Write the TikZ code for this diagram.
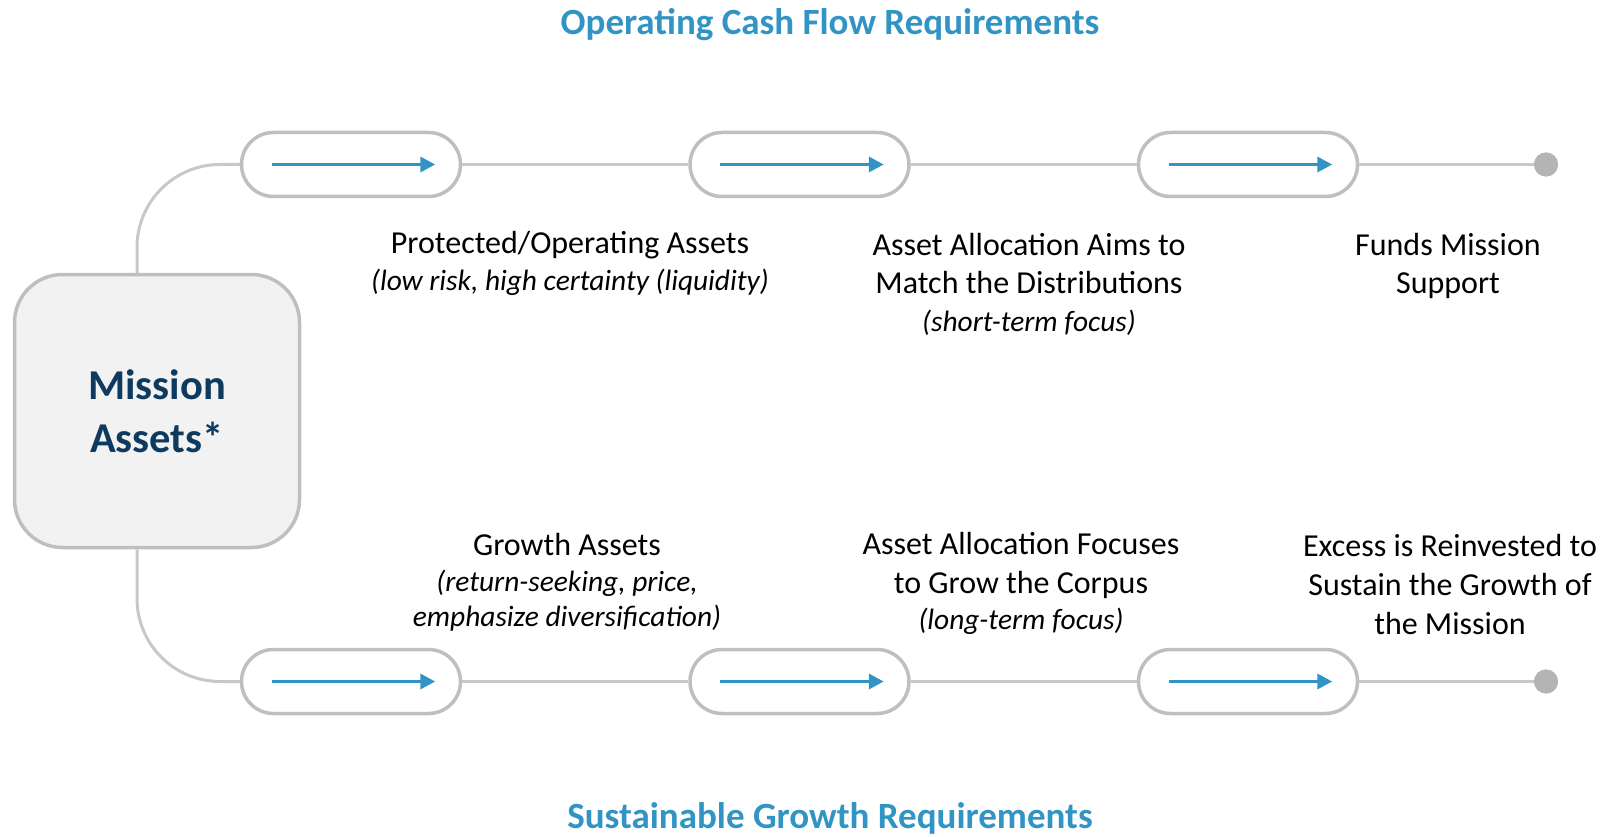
\documentclass[tikz,border=0pt]{standalone}
\usepackage{fontspec}
\setmainfont{Carlito}
\usetikzlibrary{arrows.meta}
\definecolor{accblue}{RGB}{49,148,196}
\definecolor{navy}{RGB}{14,58,95}
\definecolor{bordergray}{RGB}{191,191,191}
\definecolor{conngray}{RGB}{200,200,200}
\definecolor{dotgray}{RGB}{180,180,180}
\definecolor{boxfill}{RGB}{242,242,242}
\newcommand\subnote[1]{{\fontsize{29.4}{38}\selectfont\itshape #1}}
\begin{document}
\begin{tikzpicture}[x=1pt,y=-1pt,
  pill/.style={draw=bordergray, line width=3.5pt, fill=white, rounded corners=32pt,
    minimum width=219pt, minimum height=64pt, inner sep=0pt},
  mainbox/.style={draw=bordergray, line width=3.5pt, fill=boxfill, rounded corners=48pt,
    minimum width=285pt, minimum height=273pt, align=center, text=navy,
    font=\fontsize{42.5}{53}\selectfont\bfseries},
  conn/.style={draw=conngray, line width=3pt},
  flow/.style={draw=accblue, line width=3.5pt, -{Triangle[length=15pt,width=15pt]}},
  enddot/.style={circle, fill=dotgray, minimum size=24pt, inner sep=0pt},
  title/.style={anchor=base, text=accblue, font=\fontsize{37}{44}\selectfont\bfseries},
  label/.style={anchor=base, inner sep=0pt, font=\fontsize{32}{38}\selectfont}
]
\useasboundingbox (0,0) rectangle (1612,837);

% titles
\node[title] (ttop) at (830,35) {Operating Cash Flow Requirements};
\node[title] (tbot) at (830,828.5) {Sustainable Growth Requirements};

% mission box
\node[mainbox] (mission) at (157,411) {Mission\\Assets*};

% pills
\node[pill] (p1) at (351,164.5) {};
\node[pill] (p2) at (799.5,164.5) {};
\node[pill] (p3) at (1248,164.5) {};
\node[pill] (q1) at (351,681.5) {};
\node[pill] (q2) at (799.5,681.5) {};
\node[pill] (q3) at (1248,681.5) {};
\node[enddot] (d1) at (1546,164.5) {};
\node[enddot] (d2) at (1546,681.5) {};

% connectors
\draw[conn, rounded corners=83pt] ([xshift=-20pt]mission.north) |- (p1.west);
\draw[conn, rounded corners=83pt] ([xshift=-20pt]mission.south) |- (q1.west);
\draw[conn] (p1.east) -- (p2.west);
\draw[conn] (p2.east) -- (p3.west);
\draw[conn] (p3.east) -- (d1.center);
\draw[conn] (q1.east) -- (q2.west);
\draw[conn] (q2.east) -- (q3.west);
\draw[conn] (q3.east) -- (d2.center);
\node[enddot] at (d1) {};
\node[enddot] at (d2) {};

% blue arrows in pills
\foreach \p in {p1,p2,p3,q1,q2,q3}{
  \draw[flow] ([xshift=32pt]\p.west) -- ([xshift=-27pt]\p.east);
}

% labels
\node[label] (l1) at (570,254) {\begin{tabular}[t]{@{}c@{}}Protected/Operating Assets\\[-1pt]\subnote{(low risk, high certainty (liquidity)}\end{tabular}};
\node[label] (l2) at (1029,255) {\begin{tabular}[t]{@{}c@{}}Asset Allocation Aims to\\Match the Distributions\\[0pt]\subnote{(short-term focus)}\end{tabular}};
\node[label] (l3) at (1448,255) {\begin{tabular}[t]{@{}c@{}}Funds Mission\\[1pt]Support\end{tabular}};
\node[label] (m1) at (567,555) {\begin{tabular}[t]{@{}c@{}}Growth Assets\\[-2pt]\subnote{(return-seeking, price,}\\[-3pt]\subnote{emphasize diversification)}\end{tabular}};
\node[label] (m2) at (1021,554) {\begin{tabular}[t]{@{}c@{}}Asset Allocation Focuses\\[1pt]to Grow the Corpus\\[-2pt]\subnote{(long-term focus)}\end{tabular}};
\node[label] (m3) at (1450,556) {\begin{tabular}[t]{@{}c@{}}Excess is Reinvested to\\[1pt]Sustain the Growth of\\[1pt]the Mission\end{tabular}};
\end{tikzpicture}
\end{document}
